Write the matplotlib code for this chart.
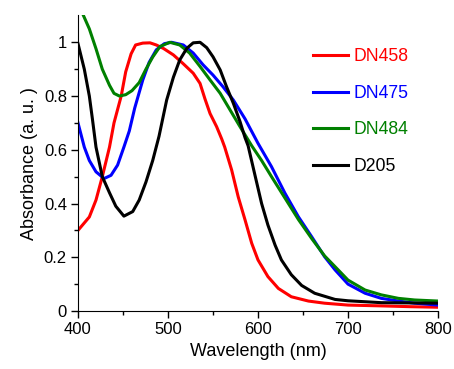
import matplotlib.pyplot as plt
import numpy as np

plt.rcParams['font.family'] = ['Liberation Sans', 'DejaVu Sans']

# DN458 (red)
wl_dn458 = [400, 412.6, 420, 427, 435, 440, 444, 448, 453, 459, 464, 472, 480, 487, 495, 506, 517,
            528, 535.6, 541, 546.7, 554, 559.7, 563, 570.7, 578, 585.6, 593, 600, 611, 622.6, 637,
            656, 674, 700, 737, 770, 800]
ab_dn458 = [0.30, 0.35, 0.413, 0.50, 0.61, 0.70, 0.75, 0.80, 0.89, 0.957, 0.99, 0.997, 0.998, 0.99, 0.977, 0.953, 0.92,
            0.885, 0.847, 0.79, 0.735, 0.686, 0.64, 0.61, 0.525, 0.425, 0.339, 0.252, 0.19, 0.128, 0.084, 0.053,
            0.037, 0.029, 0.022, 0.019, 0.016, 0.014]

# DN475 (blue)
wl_dn475 = [400, 407, 412.6, 420, 429, 436.7, 444, 451, 457, 463, 472, 479, 487, 496, 504, 517, 528,
            539, 550, 561, 572.6, 585.6, 600, 615, 630, 644.8, 659.7, 674, 685.6, 700, 719, 737, 756, 774, 800]
ab_dn475 = [0.70, 0.61, 0.56, 0.518, 0.493, 0.505, 0.543, 0.61, 0.67, 0.755, 0.86, 0.925, 0.972, 0.995, 1.0, 0.99, 0.96,
            0.916, 0.878, 0.835, 0.785, 0.715, 0.624, 0.537, 0.438, 0.351, 0.276, 0.202, 0.153, 0.10, 0.066, 0.047, 0.037, 0.029, 0.022]

# DN484 (green)
wl_dn484 = [406, 412.6, 420, 427, 435, 440, 446, 453, 460, 468, 475.5, 483, 491, 502, 513, 524, 535.6,
            546.7, 558, 569, 580, 593, 604, 615, 630, 645, 660, 674, 685.6, 700, 719, 737, 756, 774, 800]
ab_dn484 = [1.10, 1.05, 0.976, 0.90, 0.84, 0.81, 0.80, 0.805, 0.82, 0.85, 0.90, 0.945, 0.984, 1.0, 0.99, 0.96, 0.91,
            0.86, 0.81, 0.748, 0.686, 0.615, 0.56, 0.50, 0.42, 0.34, 0.268, 0.205, 0.165, 0.115, 0.078, 0.06, 0.047, 0.041, 0.037]

# D205 (black)
wl_d205 = [400, 407, 412.6, 416, 420, 427, 435, 442, 451, 460.8, 468, 475.5, 483, 490, 498.5, 506, 513,
           521, 528, 535.6, 543, 550, 558, 565, 572.6, 580, 585.6, 589, 597, 604, 611, 619, 626, 637,
           648.5, 663, 685.6, 700, 737, 800]
ab_d205 = [0.995, 0.90, 0.80, 0.715, 0.61, 0.50, 0.44, 0.39, 0.353, 0.37, 0.413, 0.48, 0.56, 0.65, 0.785, 0.87, 0.934,
           0.978, 0.998, 1.0, 0.98, 0.946, 0.897, 0.835, 0.773, 0.705, 0.645, 0.615, 0.50, 0.40, 0.32, 0.245, 0.19, 0.135,
           0.095, 0.066, 0.043, 0.038, 0.031, 0.029]

series = [
    ('DN458', wl_dn458, ab_dn458, '#ff0000'),
    ('DN475', wl_dn475, ab_dn475, '#0000ff'),
    ('DN484', wl_dn484, ab_dn484, '#008000'),
    ('D205', wl_d205, ab_d205, '#000000'),
]

fig = plt.figure(figsize=(4.54, 3.69), dpi=100)
ax = fig.add_axes([0.1718, 0.1572, 0.793, 0.801])

for name, wl, ab, color in series:
    ax.plot(wl, ab, color=color, linewidth=2.2, label=name)

ax.set_xlim(400, 800)
ax.set_ylim(0, 1.1)
ax.set_xticks([400, 500, 600, 700, 800])
ax.set_xticks([450, 550, 650, 750], minor=True)
ax.set_yticks([0, 0.2, 0.4, 0.6, 0.8, 1.0])
ax.set_yticklabels(['0', '0.2', '0.4', '0.6', '0.8', '1'])
ax.set_yticks([0.1, 0.3, 0.5, 0.7, 0.9], minor=True)

ax.spines['top'].set_visible(False)
ax.spines['right'].set_visible(False)
ax.tick_params(which='major', direction='out', length=5, width=1, labelsize=12, pad=3)
ax.tick_params(which='minor', direction='out', length=3, width=1)

ax.set_xlabel('Wavelength (nm)', fontsize=13)
ax.set_ylabel('Absorbance (a. u. )', fontsize=13)

ax.legend(loc='upper left', bbox_to_anchor=(0.653, 0.89), frameon=False,
          fontsize=12.7, handlelength=2.0, handletextpad=0.3, labelspacing=1.12,
          borderpad=0, borderaxespad=0, labelcolor='linecolor')

fig.savefig('out.png', dpi=100)
